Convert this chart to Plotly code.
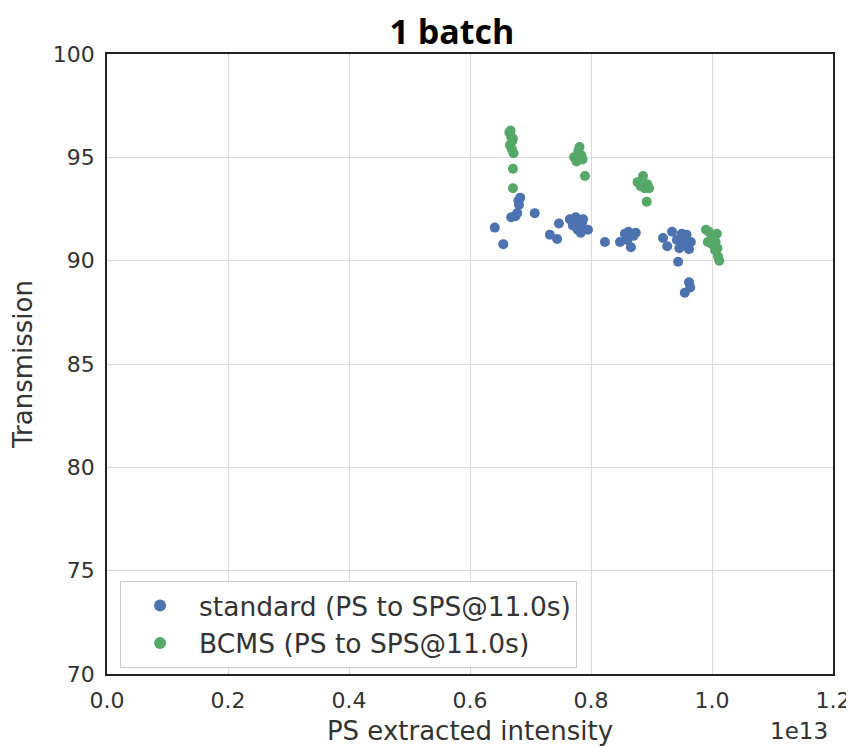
import plotly.graph_objects as go

std_x = [0.641, 0.655, 0.668, 0.675, 0.678, 0.681, 0.683, 0.680, 0.707, 0.732, 0.744, 0.747,
         0.765, 0.770, 0.775, 0.778, 0.780, 0.783, 0.785, 0.787, 0.795, 0.823, 0.848, 0.856,
         0.860, 0.862, 0.866, 0.870, 0.874, 0.919, 0.926, 0.934, 0.942, 0.946, 0.950, 0.953,
         0.955, 0.958, 0.962, 0.965, 0.944, 0.955, 0.962, 0.964]
std_y = [91.6, 90.8, 92.1, 92.15, 92.3, 92.7, 93.05, 92.9, 92.3, 91.25, 91.05, 91.8,
         92.0, 91.7, 92.1, 91.5, 91.9, 91.35, 91.8, 92.0, 91.5, 90.9, 90.9, 91.3,
         91.0, 91.4, 90.65, 91.2, 91.35, 91.1, 90.7, 91.4, 91.0, 90.6, 91.3, 90.8,
         91.0, 91.25, 90.55, 90.9, 89.95, 88.45, 88.95, 88.7]

bcms_x = [0.665, 0.668, 0.670, 0.666, 0.669, 0.672, 0.667, 0.671, 0.671, 0.671,
          0.772, 0.776, 0.779, 0.781, 0.784, 0.786, 0.790,
          0.877, 0.882, 0.886, 0.889, 0.893, 0.896, 0.892,
          0.990, 0.995, 0.998, 1.000, 1.003, 1.005, 1.008, 1.010, 1.012, 1.009, 0.993, 1.006]
bcms_y = [96.2, 96.0, 95.8, 95.6, 95.4, 95.2, 96.3, 95.9, 94.45, 93.5,
          95.0, 94.8, 95.3, 95.5, 95.1, 94.9, 94.1,
          93.8, 93.6, 94.1, 93.5, 93.7, 93.5, 92.85,
          91.5, 91.4, 91.0, 90.8, 91.2, 90.5, 91.3, 90.2, 90.0, 90.6, 90.9, 90.9]

x_ticks = [0.0, 0.2, 0.4, 0.6, 0.8, 1.0, 1.2]
y_ticks = [70, 75, 80, 85, 90, 95, 100]

fig = go.Figure()
fig.add_trace(go.Scatter(x=std_x, y=std_y, mode="markers", name="standard (PS to SPS@11.0s)",
                         marker=dict(color="#4C72B0", size=10, line=dict(width=0))))
fig.add_trace(go.Scatter(x=bcms_x, y=bcms_y, mode="markers", name="BCMS (PS to SPS@11.0s)",
                         marker=dict(color="#55A868", size=10, line=dict(width=0))))

axis_common = dict(showgrid=True, gridcolor="#d9d9d9", gridwidth=1, zeroline=False,
                   showline=True, linecolor="#222222", linewidth=1.5, mirror=True,
                   ticks="outside", ticklen=6, tickcolor="rgba(0,0,0,0)", automargin=False,
                   tickfont=dict(family="DejaVu Sans", size=22, color="#333333"))

fig.update_xaxes(range=[0, 1.2], tickvals=x_ticks, ticktext=[f"{v:.1f}" for v in x_ticks],
                 title=dict(text="PS extracted intensity", font=dict(family="DejaVu Sans", size=26, color="#333333"),
                            standoff=10),
                 **axis_common)
fig.update_yaxes(range=[70, 100], tickvals=y_ticks, ticktext=[str(v) for v in y_ticks],
                 title=dict(text="Transmission", font=dict(family="DejaVu Sans", size=26, color="#333333"),
                            standoff=14),
                 **axis_common)

fig.update_layout(
    width=846, height=739,
    margin=dict(l=99, r=21, t=46, b=73),
    paper_bgcolor="white", plot_bgcolor="white",
    title=dict(text="<b>1 batch</b>", xref="paper", x=0.475, xanchor="center",
               yref="container", y=0.968, yanchor="middle",
               font=dict(family="Open Sans", size=34, color="black")),
    legend=dict(x=0.018, y=0.01, xanchor="left", yanchor="bottom",
                bordercolor="#cccccc", borderwidth=1, bgcolor="white",
                font=dict(family="DejaVu Sans", size=26.5, color="#333333"),
                itemsizing="constant", itemwidth=68),
    showlegend=True,
)
fig.add_annotation(text="1e13", xref="paper", yref="paper", x=0.996, y=-0.092, xanchor="right", yanchor="middle",
                   showarrow=False, font=dict(family="DejaVu Sans", size=23, color="#333333"))

fig.write_html("out.html")
